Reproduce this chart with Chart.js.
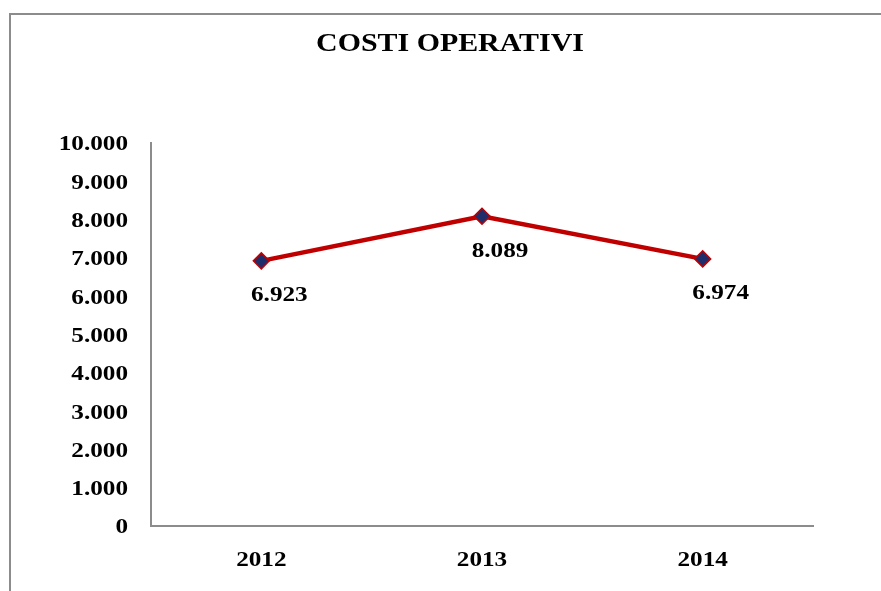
<!DOCTYPE html>
<html>
<head>
<meta charset="utf-8">
<script src="https://cdn.jsdelivr.net/npm/chart.js@4.4.1/dist/chart.umd.min.js"></script>
<style>
  html, body { margin: 0; padding: 0; background: #fff; }
  canvas { display: block; }
</style>
</head>
<body>
<canvas id="chart" width="881" height="591"></canvas>
<script>
const years = ['2012', '2013', '2014'];
const costi = [6923, 8089, 6974];
const yTicks = [0, 1000, 2000, 3000, 4000, 5000, 6000, 7000, 8000, 9000, 10000];
const title = 'COSTI OPERATIVI';

const serif = "'Liberation Serif', 'Times New Roman', serif";
const fmt = (v) => String(v).replace(/\B(?=(\d{3})+(?!\d))/g, '.');

// the original picture is stretched sideways, so text is drawn a bit wider
function wideText(ctx, text, x, y, align, stretch) {
    ctx.save();
    ctx.translate(x, y);
    ctx.scale(stretch, 1);
    ctx.textAlign = align;
    ctx.fillText(text, 0, 0);
    ctx.restore();
}

// gray frame around the whole chart (runs off the right/bottom edge)
const frame = {
    id: 'frame',
    beforeDraw(chart) {
        const ctx = chart.ctx;
        ctx.save();
        ctx.strokeStyle = '#8c8c8c';
        ctx.lineWidth = 2;
        ctx.strokeRect(10, 14, 1000, 1000);
        ctx.restore();
    }
};

// title, axis labels and value labels
const texts = {
    id: 'texts',
    afterDraw(chart) {
        const ctx = chart.ctx;
        const xs = chart.scales.x;
        const ys = chart.scales.y;
        ctx.save();
        ctx.fillStyle = '#000';
        ctx.textBaseline = 'middle';

        ctx.font = 'bold 26px ' + serif;
        wideText(ctx, title, 450, 44, 'center', 1.15);

        ctx.font = 'bold 21px ' + serif;
        yTicks.forEach((v) => {
            wideText(ctx, fmt(v), ys.left + ys.width - 23, ys.getPixelForValue(v) + 2, 'right', 1.2);
        });
        years.forEach((y, i) => {
            wideText(ctx, y, xs.getPixelForValue(i), xs.top + 35, 'center', 1.2);
        });

        const meta = chart.getDatasetMeta(0);
        meta.data.forEach((pt, i) => {
            wideText(ctx, fmt(costi[i]), pt.x + 18, pt.y + 35, 'center', 1.2);
        });
        ctx.restore();
    }
};

new Chart(document.getElementById('chart'), {
    type: 'line',
    data: {
        labels: years,
        datasets: [{
            data: costi,
            borderColor: '#C00000',
            borderWidth: 4.5,
            pointStyle: 'rectRot',
            pointRadius: 8,
            pointHoverRadius: 8,
            pointBackgroundColor: '#1F2D6B',
            pointBorderColor: '#C00000',
            pointBorderWidth: 1.5,
            tension: 0
        }]
    },
    options: {
        responsive: false,
        animation: false,
        devicePixelRatio: 1,
        layout: {
            padding: { left: 0, right: 68, top: 143, bottom: 0 }
        },
        scales: {
            x: {
                offset: true,
                grid: { display: false, drawTicks: false },
                border: { color: '#8c8c8c', width: 2 },
                ticks: { display: false },
                afterFit: (scale) => { scale.height = 65; }
            },
            y: {
                min: 0,
                max: 10000,
                afterBuildTicks: (scale) => {
                    scale.ticks = yTicks.map((v) => ({ value: v }));
                },
                grid: { display: false, drawTicks: false },
                border: { color: '#8c8c8c', width: 2 },
                ticks: { display: false },
                afterFit: (scale) => { scale.width = 151; }
            }
        },
        plugins: {
            legend: { display: false },
            tooltip: { enabled: false },
            title: { display: false }
        }
    },
    plugins: [frame, texts]
});
</script>
</body>
</html>
